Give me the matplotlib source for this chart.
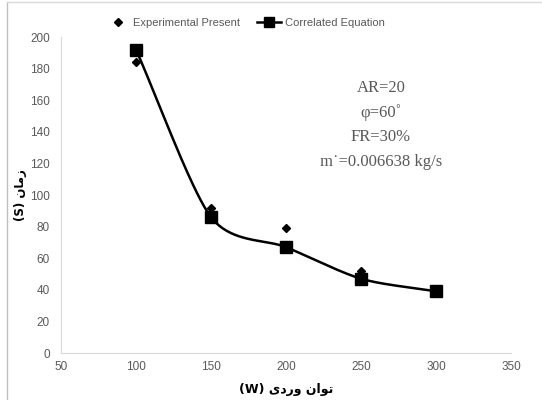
import numpy as np
import matplotlib
matplotlib.use('Agg')
import matplotlib.pyplot as plt
from matplotlib.lines import Line2D

# data
power = [100, 150, 200, 250, 300]
experimental = [184, 92, 79, 52, 39]
correlated = [192, 86, 67, 47, 39]

x_ticks = [50, 100, 150, 200, 250, 300, 350]
y_ticks = [0, 20, 40, 60, 80, 100, 120, 140, 160, 180, 200]

# Arabic labels written in visual (shaped, left-to-right) order
ylabel_txt = '(S) \ufee5\ufe8e\ufee3\ufeaf'
xlabel_txt = '(W) \ufbfc\ufea9\ufead\ufeed \ufee5\ufe8d\ufeee\ufe97'

info_lines = ['AR=20', '\u03c6=60\u02da', 'FR=30%', 'm\u02d9=0.006638 kg/s']


def smooth_curve(x, y, n=40, tension=0.8):
    '''Excel-like smoothed line (cardinal spline through the points).'''
    x = np.asarray(x, float)
    y = np.asarray(y, float)
    px = np.concatenate([[2 * x[0] - x[1]], x, [2 * x[-1] - x[-2]]])
    py = np.concatenate([[2 * y[0] - y[1]], y, [2 * y[-1] - y[-2]]])
    xs, ys = [], []
    t = np.linspace(0, 1, n)
    h00 = 2 * t ** 3 - 3 * t ** 2 + 1
    h10 = t ** 3 - 2 * t ** 2 + t
    h01 = -2 * t ** 3 + 3 * t ** 2
    h11 = t ** 3 - t ** 2
    for i in range(1, len(px) - 2):
        for p, out in ((px, xs), (py, ys)):
            m1 = tension * 0.5 * (p[i + 1] - p[i - 1])
            m2 = tension * 0.5 * (p[i + 2] - p[i])
            out.extend(h00 * p[i] + h10 * m1 + h01 * p[i + 1] + h11 * m2)
    return np.array(xs), np.array(ys)


grey = '#595959'
fig = plt.figure(figsize=(5.42, 4.0), dpi=100)
ax = fig.add_axes([0.1125, 0.1175, 0.8305, 0.79])

sx, sy = smooth_curve(power, correlated)
ax.plot(sx, sy, color='black', lw=1.8, zorder=2)
ax.plot(power, correlated, ls='none', marker='s', ms=8, color='black', zorder=3)
ax.plot(power, experimental, ls='none', marker='D', ms=4, color='black', zorder=4)

ax.set_xlim(50, 350)
ax.set_ylim(0, 200)
ax.set_xticks(x_ticks)
ax.set_yticks(y_ticks)
for s in ['top', 'right']:
    ax.spines[s].set_visible(False)
for s in ['left', 'bottom']:
    ax.spines[s].set_color('#d9d9d9')
ax.tick_params(length=0, colors=grey, labelsize=8.5)
ax.tick_params(axis='y', pad=8)
ax.tick_params(axis='x', pad=6)
for lab in ax.get_xticklabels() + ax.get_yticklabels():
    lab.set_fontfamily('Liberation Sans')

ax.set_xlabel(xlabel_txt, fontfamily='DejaVu Sans', fontweight='bold',
              fontsize=9, color='black')
ax.set_ylabel(ylabel_txt, fontfamily='DejaVu Sans', fontweight='bold',
              fontsize=8.5, color='black')
ax.xaxis.set_label_coords(0.5, -30 / 316)
ax.yaxis.set_label_coords(-34 / 450, 0.5)

for i, line in enumerate(info_lines):
    fig.text(381 / 542, 1 - (88 + 24.5 * i) / 400, line, ha='center', va='center',
             fontsize=12, color=grey, fontfamily='Liberation Serif')

handles = [Line2D([], [], ls='none', marker='D', ms=4, color='black'),
           Line2D([], [], color='black', lw=1.8, marker='s', ms=7)]
fig.legend(handles, ['Experimental Present', 'Correlated Equation'],
           loc='center', bbox_to_anchor=(245 / 542, 1 - 23 / 400), ncol=2,
           frameon=False, labelcolor=grey, handlelength=2.2,
           handletextpad=0.3, columnspacing=1.5,
           prop={'family': 'Liberation Sans', 'size': 8})

# outer chart border (only left and top edges are visible in the crop)
fig.add_artist(Line2D([7 / 542, 7 / 542], [0, 1 - 2 / 400], color='#bfbfbf', lw=1))
fig.add_artist(Line2D([7 / 542, 1], [1 - 2 / 400, 1 - 2 / 400], color='#d9d9d9', lw=1))

fig.savefig('out.png', dpi=100)
